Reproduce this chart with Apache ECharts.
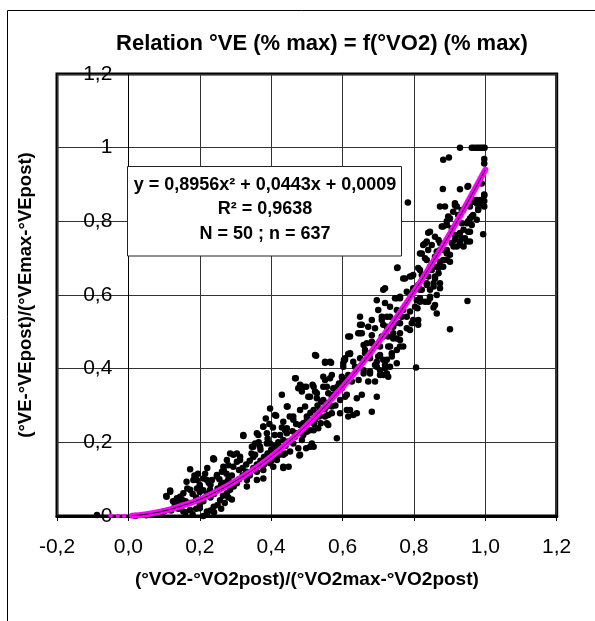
<!DOCTYPE html>
<html><head><meta charset="utf-8">
<script src="https://cdn.jsdelivr.net/npm/echarts@6/dist/echarts.min.js"></script>
<style>html,body{margin:0;padding:0;background:#fff}#c{width:595px;height:621px}</style>
</head><body><div id="c"></div>
<script>
const xTickLabels = ['-0,2','0,0','0,2','0,4','0,6','0,8','1,0','1,2'];
const yTickLabels = ['0','0,2','0,4','0,6','0,8','1','1,2'];
const titleText = 'Relation °VE (% max) = f(°VO2) (% max)';
const xTitle = '(°VO2-°VO2post)/(°VO2max-°VO2post)';
const yTitle = '(°VE-°VEpost)/(°VEmax-°VEpost)';
const eqLines = ['y = 0,8956x² + 0,0443x + 0,0009', 'R² = 0,9638', 'N = 50 ; n = 637'];

const obsLow = [[-0.088,0.003],[0.02,0.0],[0.05,0.002],[0.07,0.004],[0.09,0.008],[0.1,0.012],
[0.106,0.054],[0.117,0.069],[0.107,0.052],[0.117,0.066],[0.136,0.048],[0.145,0.052],[0.154,0.062],[0.163,0.093],[0.173,0.127],[0.173,0.071],[0.182,0.098],[0.192,0.075],[0.192,0.098],[0.2,0.084],[0.2,0.08],[0.21,0.102],[0.221,0.13],[0.22,0.098],[0.229,0.071],[0.234,0.098],[0.238,0.154],[0.24,0.154],[0.248,0.111],[0.248,0.107],[0.262,0.12],[0.266,0.134],[0.267,0.125],[0.276,0.152],[0.28,0.138],[0.285,0.17],[0.294,0.134],[0.276,0.062],[0.285,0.071],[0.257,0.043],[0.239,0.025],[0.22,0.012],[0.2,0.021],[0.173,0.016],[0.154,0.012],
[0.12,0.015],[0.13,0.03],[0.14,0.02],[0.15,0.045],[0.16,0.01],[0.16,0.04],[0.17,0.035],[0.18,0.005],[0.19,0.02],[0.2,0.03],[0.21,0.0],[0.21,0.04],[0.22,0.005],[0.23,0.015],[0.23,0.05],[0.24,0.01],[0.24,0.06],[0.25,0.03],[0.25,0.075],[0.26,0.02],[0.26,0.085],[0.27,0.035],[0.27,0.09],[0.28,0.05],[0.28,0.1],[0.29,0.045],[0.29,0.11],[0.18,0.06],[0.19,0.05],[0.2,0.065],[0.21,0.07],[0.22,0.06],[0.23,0.085],[0.14,0.035],[0.125,0.04],[0.165,0.075],[0.185,0.11],[0.195,0.115],[0.215,0.115],[0.225,0.09],[0.255,0.1],[0.265,0.055],[0.275,0.115],[0.285,0.09],[0.295,0.08]];

const obsMidLow = [[0.304,0.17],[0.304,0.147],[0.304,0.089],[0.313,0.152],[0.322,0.22],[0.332,0.098],[0.332,0.08],[0.35,0.188],[0.36,0.225],[0.36,0.098],[0.378,0.243],[0.378,0.102],[0.378,0.125],[0.388,0.197],[0.397,0.143],[0.406,0.134],[0.416,0.152],[0.434,0.134],[0.439,0.233],[0.397,0.292],[0.411,0.274],[0.43,0.329],[0.322,0.217],[0.294,0.166],[0.313,0.161],[0.238,0.157],[0.411,0.163],[0.425,0.188],[0.448,0.202],[0.346,0.188],[0.355,0.166],[0.355,0.197],[0.369,0.188],[0.364,0.22],[0.388,0.225],[0.378,0.242],[0.397,0.197],[0.416,0.179],[0.434,0.166],[0.414,0.272],[0.446,0.297],[0.434,0.256],[0.444,0.238],[0.434,0.206],[0.439,0.17],[0.449,0.134],[0.434,0.13],[0.444,0.225],[0.444,0.297],
[0.31,0.1],[0.32,0.11],[0.33,0.12],[0.34,0.11],[0.35,0.13],[0.36,0.14],[0.37,0.15],[0.38,0.16],[0.39,0.17],[0.4,0.18],[0.41,0.19],[0.42,0.2],[0.33,0.14],[0.34,0.15],[0.35,0.16],[0.37,0.18],[0.39,0.21],[0.41,0.22],[0.43,0.24],[0.32,0.13],[0.36,0.12],[0.38,0.14],[0.4,0.15],[0.42,0.165],[0.44,0.19],[0.31,0.125],[0.345,0.17],[0.365,0.2],[0.395,0.25],[0.405,0.24],[0.425,0.22],[0.385,0.265]];

const obsMid = [[0.453,0.175],[0.452,0.27],[0.462,0.261],[0.462,0.27],[0.462,0.197],[0.467,0.215],[0.467,0.374],[0.469,0.374],[0.472,0.225],[0.476,0.347],[0.476,0.184],[0.479,0.164],[0.481,0.356],[0.481,0.288],[0.481,0.247],[0.481,0.166],[0.486,0.338],[0.486,0.206],[0.49,0.22],[0.49,0.351],[0.49,0.252],[0.495,0.297],[0.498,0.351],[0.498,0.184],[0.5,0.261],[0.5,0.229],[0.504,0.324],[0.509,0.233],[0.509,0.324],[0.509,0.261],[0.509,0.188],[0.514,0.197],[0.516,0.356],[0.519,0.288],[0.519,0.351],[0.519,0.188],[0.519,0.233],[0.523,0.338],[0.523,0.261],[0.523,0.437],[0.526,0.435],[0.528,0.32],[0.528,0.333],[0.532,0.238],[0.532,0.279],[0.537,0.288],[0.539,0.252],[0.546,0.351],[0.546,0.378],[0.546,0.315],[0.551,0.369],[0.551,0.416],[0.551,0.27],[0.551,0.419],[0.556,0.306],[0.556,0.351],[0.556,0.297],[0.556,0.252],[0.56,0.333],[0.56,0.247],[0.56,0.274],[0.565,0.374],[0.565,0.419],[0.568,0.416],[0.57,0.297],[0.57,0.279],[0.57,0.324],[0.57,0.383],[0.574,0.347],[0.584,0.211],[0.593,0.315],[0.593,0.279],[0.598,0.378],[0.598,0.347],[0.602,0.405],[0.602,0.415],[0.604,0.424],[0.607,0.324],[0.607,0.424],[0.607,0.428],[0.612,0.329],[0.612,0.288],[0.612,0.369],[0.616,0.487],[0.616,0.44],[0.616,0.27],[0.616,0.383],
[0.46,0.23],[0.47,0.25],[0.5,0.27],[0.51,0.28],[0.53,0.3],[0.54,0.31],[0.575,0.33],[0.585,0.35],[0.59,0.36],[0.6,0.37],[0.58,0.3],[0.52,0.25],[0.535,0.27],[0.55,0.29]];

const obsUpperMid = [[0.621,0.288],[0.621,0.442],[0.621,0.487],[0.621,0.44],[0.626,0.365],[0.63,0.274],[0.63,0.419],[0.635,0.405],[0.64,0.279],[0.64,0.32],[0.645,0.369],[0.644,0.496],[0.649,0.519],[0.649,0.541],[0.649,0.496],[0.649,0.428],[0.654,0.329],[0.654,0.496],[0.654,0.519],[0.659,0.464],[0.659,0.387],[0.659,0.396],[0.663,0.442],[0.663,0.451],[0.668,0.469],[0.672,0.365],[0.672,0.514],[0.677,0.392],[0.677,0.442],[0.677,0.428],[0.677,0.387],[0.682,0.283],[0.682,0.469],[0.682,0.532],[0.682,0.491],[0.682,0.473],[0.691,0.365],[0.691,0.41],[0.691,0.51],[0.696,0.324],[0.696,0.419],[0.696,0.586],[0.696,0.405],[0.7,0.433],[0.7,0.559],[0.705,0.396],[0.705,0.437],[0.705,0.46],[0.705,0.383],[0.71,0.487],[0.71,0.532],[0.71,0.541],[0.714,0.383],[0.714,0.519],[0.714,0.614],[0.714,0.424],[0.714,0.487],[0.719,0.401],[0.719,0.578],[0.719,0.618],[0.719,0.41],[0.724,0.424],[0.724,0.514],[0.724,0.387],[0.724,0.541],[0.728,0.378],[0.728,0.487],[0.728,0.46],[0.733,0.405],[0.733,0.46],[0.733,0.541],[0.733,0.568],[0.738,0.433],[0.738,0.442],[0.742,0.496],[0.742,0.514],[0.742,0.482],[0.747,0.523],[0.747,0.591],[0.752,0.482],[0.752,0.559],[0.752,0.591],[0.752,0.451],[0.752,0.415],[0.753,0.673],[0.754,0.675]];

const obsUpper = [[0.761,0.496],[0.761,0.595],[0.761,0.591],[0.761,0.478],[0.761,0.523],[0.761,0.46],[0.766,0.541],[0.77,0.559],[0.77,0.645],[0.77,0.46],[0.775,0.645],[0.78,0.609],[0.78,0.51],[0.78,0.541],[0.783,0.851],[0.789,0.65],[0.789,0.555],[0.789,0.505],[0.794,0.523],[0.794,0.651],[0.798,0.618],[0.798,0.654],[0.798,0.609],[0.798,0.532],[0.803,0.568],[0.806,0.403],[0.808,0.586],[0.81,0.564],[0.812,0.532],[0.812,0.673],[0.812,0.627],[0.812,0.519],[0.817,0.668],[0.817,0.713],[0.817,0.591],[0.817,0.614],[0.817,0.582],[0.822,0.713],[0.822,0.614],[0.822,0.654],[0.826,0.736],[0.826,0.654],[0.831,0.74],[0.831,0.582],[0.831,0.7],[0.836,0.695],[0.836,0.627],[0.836,0.745],[0.836,0.632],[0.84,0.769],[0.84,0.65],[0.84,0.722],[0.84,0.582],[0.845,0.772],[0.845,0.677],[0.845,0.614],[0.845,0.591],[0.845,0.595],[0.85,0.736],[0.85,0.668],[0.855,0.632],[0.855,0.623],[0.855,0.566],[0.859,0.758],[0.859,0.704],[0.859,0.645],[0.859,0.65],[0.859,0.573],[0.864,0.718],[0.864,0.677],[0.864,0.6],[0.864,0.55],[0.869,0.659],[0.869,0.749],[0.869,0.673],[0.873,0.741],[0.873,0.69],[0.873,0.618],[0.873,0.84],[0.873,0.722],[0.873,0.632],[0.878,0.786],[0.881,0.888],[0.882,0.967],[0.882,0.722],[0.882,0.677],[0.882,0.786],[0.882,0.695],[0.887,0.84],[0.892,0.79],[0.892,0.695],[0.892,0.722],[0.892,0.8],[0.892,0.713],[0.896,0.813],[0.898,0.973],[0.901,0.808],[0.901,0.709],[0.901,0.507],[0.901,0.69],[0.906,0.781],[0.906,0.741],[0.91,0.826],[0.911,0.732],[0.915,0.844],[0.915,0.763],[0.915,0.75],[0.915,0.849],[0.92,0.732],[0.92,0.84],[0.92,0.763],[0.924,0.817],[0.929,0.887],[0.929,1.0],[0.929,0.768],[0.929,0.745],[0.929,0.736],[0.934,0.795],[0.934,0.831],[0.934,0.754],[0.938,0.831],[0.939,0.732],[0.939,0.777],[0.943,0.754],[0.948,0.795],[0.948,0.745],[0.95,0.894],[0.95,0.584],[0.952,0.772],[0.952,0.896],[0.952,0.8],[0.957,0.84],[0.957,0.808],[0.957,0.745],[0.957,0.772],[0.962,1.0],[0.962,0.79],[0.962,0.813],[0.966,0.853],[0.966,0.817],[0.966,0.858],[0.968,1.0],[0.975,1.0],[0.976,0.858],[0.976,0.804],[0.976,0.849],[0.98,0.831],[0.98,0.835],[0.981,1.0],[0.985,0.849],[0.985,0.858],[0.987,1.0],[0.99,0.903],[0.993,1.0],[0.994,0.765],[0.997,0.969],[0.997,0.957],[0.997,0.873],[0.997,0.855],[0.997,0.84],[0.998,1.0],[0.997,0.87]];

const fitX = [0.01,0.05,0.1,0.15,0.2,0.25,0.3,0.35,0.4,0.45,0.5,0.55,0.6,0.65,0.7,0.75,0.8,0.85,0.9,0.95,1.0];
const fitY = [0.001,0.005,0.014,0.028,0.045,0.068,0.095,0.126,0.161,0.202,0.247,0.297,0.35,0.408,0.471,0.538,0.609,0.685,0.765,0.851,0.94];
const predNeg = [[-0.05,0.001],[-0.03,0.0],[-0.012,0.0]];

const FONT = 'Liberation Sans, Arial, sans-serif';
const obs = obsLow.concat(obsMidLow, obsMid, obsUpperMid, obsUpper);
const fit = fitX.map((x,i)=>[x, fitY[i]]);

// plot geometry: x from -0.2 to 1.2 over 499.7 px; y axis crosses at x = 0
const GRID_LEFT = 57, GRID_W = 499.7;
const Y_AXIS_OFFSET = -GRID_W * 0.2 / 1.4;

const chart = echarts.init(document.getElementById('c'), null, {renderer:'canvas'});
chart.setOption({
  backgroundColor:'#fff',
  animation:false,
  grid:{left:GRID_LEFT, top:74, width:GRID_W, height:442, show:true, borderColor:'#000', borderWidth:3,
        backgroundColor:'transparent', containLabel:false, outerBoundsMode:'none'},
  xAxis:{type:'value', min:-0.2, max:1.2, interval:0.2,
    name: xTitle, nameLocation:'middle', nameGap:54,
    nameTextStyle:{fontFamily:FONT, fontWeight:'bold', fontSize:19, color:'#000'},
    axisLine:{show:true, onZero:false, lineStyle:{color:'#000', width:3}},
    axisTick:{show:true, length:5, lineStyle:{color:'#000', width:1}},
    axisLabel:{fontFamily:FONT, fontSize:21, color:'#000', margin:21,
      formatter:(v)=>xTickLabels[Math.round((v+0.2)/0.2)]},
    splitLine:{show:true, lineStyle:{color:'#333', width:1}}},
  yAxis:{type:'value', min:0, max:1.2, interval:0.2, position:'left', offset:Y_AXIS_OFFSET,
    name: yTitle, nameLocation:'middle', nameGap:93,
    nameTextStyle:{fontFamily:FONT, fontWeight:'bold', fontSize:18.5, color:'#000'},
    axisLine:{show:true, onZero:false, lineStyle:{color:'#000', width:1}},
    axisTick:{show:false},
    axisLabel:{fontFamily:FONT, fontSize:21, color:'#000', margin:16,
      formatter:(v)=>yTickLabels[Math.round(v/0.2)]},
    splitLine:{show:true, lineStyle:{color:'#333', width:1}}},
  graphic:[
    {type:'rect', shape:{x:7.5, y:10.5, width:700, height:700}, style:{fill:'none', stroke:'#000', lineWidth:1}, z:100},
    {type:'text', x:322, y:44, style:{text:titleText, font:'bold 22px '+FONT, fill:'#000', textAlign:'center', textVerticalAlign:'middle'}, z:100},
    {type:'rect', shape:{x:127.5, y:166.5, width:274, height:89.5}, style:{fill:'#fff', stroke:'#222', lineWidth:1}, z:100},
    {type:'text', x:265, y:185, style:{text:eqLines[0], font:'bold 18px '+FONT, fill:'#000', textAlign:'center', textVerticalAlign:'middle'}, z:101},
    {type:'text', x:265, y:209.5, style:{text:eqLines[1], font:'bold 18px '+FONT, fill:'#000', textAlign:'center', textVerticalAlign:'middle'}, z:101},
    {type:'text', x:265, y:234.5, style:{text:eqLines[2], font:'bold 18px '+FONT, fill:'#000', textAlign:'center', textVerticalAlign:'middle'}, z:101}
  ],
  series:[
    {type:'scatter', data:obs, symbol:'circle', symbolSize:6.5, itemStyle:{color:'#000', opacity:1}, z:2},
    {type:'scatter', data:predNeg, symbol:'circle', symbolSize:4.5, itemStyle:{color:'#ff00ff', opacity:1}, z:3},
    {type:'line', data:fit, smooth:true, showSymbol:false, lineStyle:{color:'#ff00ff', width:6, cap:'round'}, z:3},
    {type:'line', data:fit, smooth:true, showSymbol:false, lineStyle:{color:'#000', width:1}, z:4}
  ]
});
</script></body></html>
